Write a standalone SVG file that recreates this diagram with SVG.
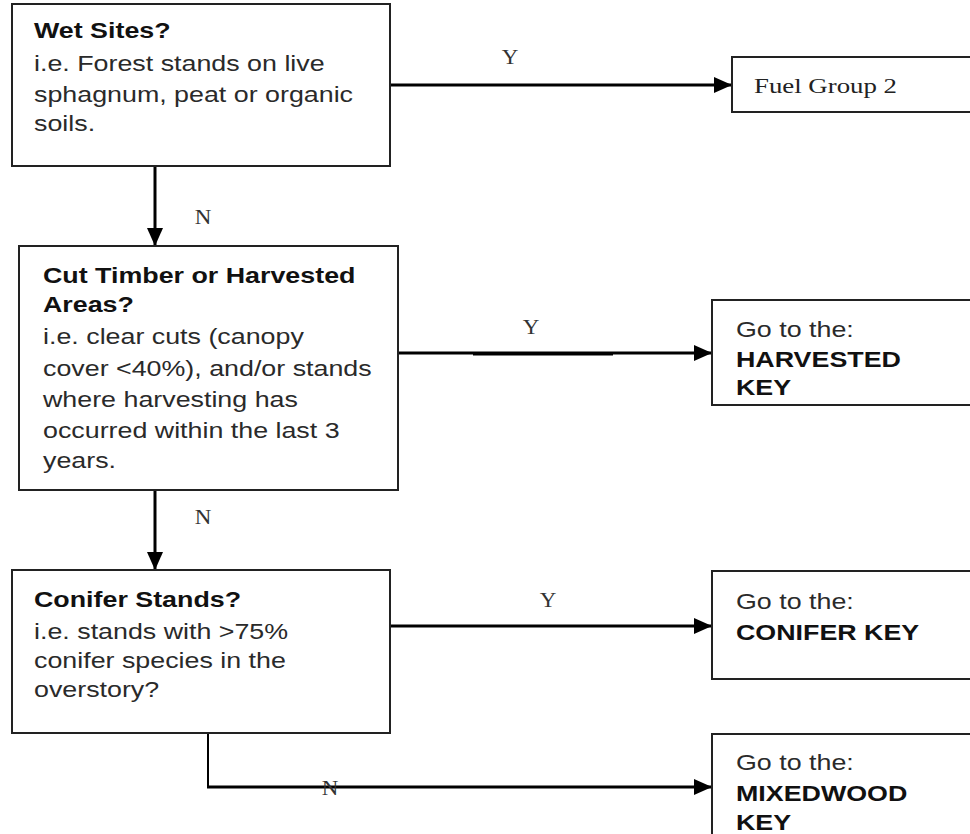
<svg xmlns="http://www.w3.org/2000/svg" width="970" height="834" viewBox="0 0 970 834">
<style>
.box{fill:#fff;stroke:#222;stroke-width:2}
.s{font-family:"Liberation Sans",Arial,sans-serif;font-size:22px;fill:#2a2a2a}
.b{font-family:"Liberation Sans",Arial,sans-serif;font-size:22px;font-weight:bold;fill:#111}
.t{font-family:"Liberation Serif","Times New Roman",serif;font-size:22px;fill:#222}
.lbl{font-family:"Liberation Serif","Times New Roman",serif;font-size:20px;fill:#333}
.c{fill:none;stroke:#000;stroke-width:3}
.c2{fill:none;stroke:#000;stroke-width:2}
</style>
<defs>
<marker id="ah" viewBox="0 0 18 16" refX="18" refY="8" markerWidth="18" markerHeight="16" markerUnits="userSpaceOnUse" orient="auto">
<path d="M0,0 L18,8 L0,16 z" fill="#000"/>
</marker>
</defs>
<rect width="970" height="834" fill="#fff"/>
<g id="connectors">
<line class="c" x1="390" y1="85" x2="732" y2="85" marker-end="url(#ah)"/>
<line class="c" x1="155" y1="166" x2="155" y2="246" marker-end="url(#ah)"/>
<line class="c" x1="398" y1="353" x2="712" y2="353" marker-end="url(#ah)"/>
<line class="c" x1="473" y1="354" x2="613" y2="354"/>
<line class="c" x1="155" y1="490" x2="155" y2="570" marker-end="url(#ah)"/>
<line class="c" x1="390" y1="626" x2="712" y2="626" marker-end="url(#ah)"/>
<polyline class="c2" points="208,733 208,787"/>
<line class="c" x1="207" y1="787" x2="712" y2="787" marker-end="url(#ah)"/>
<g transform="translate(510 0) scale(1.15 1)"><text class="lbl" x="0" y="64" text-anchor="middle">Y</text></g>
<g transform="translate(203 0) scale(1.15 1)"><text class="lbl" x="0" y="224" text-anchor="middle">N</text></g>
<g transform="translate(531 0) scale(1.15 1)"><text class="lbl" x="0" y="334" text-anchor="middle">Y</text></g>
<g transform="translate(203 0) scale(1.15 1)"><text class="lbl" x="0" y="524" text-anchor="middle">N</text></g>
<g transform="translate(548 0) scale(1.15 1)"><text class="lbl" x="0" y="607" text-anchor="middle">Y</text></g>
<g transform="translate(330 0) scale(1.15 1)"><text class="lbl" x="0" y="795" text-anchor="middle">N</text></g>
</g>
<g id="wet">
<rect class="box" x="12" y="4" width="378" height="162"/>
<g transform="translate(34 0) scale(1.22 1)">
<text class="b" x="0" y="38">Wet Sites?</text>
<text class="s" x="0" y="71">i.e. Forest stands on live</text>
<text class="s" x="0" y="102">sphagnum, peat or organic</text>
<text class="s" x="0" y="131">soils.</text>
</g>
</g>
<g id="fuel2">
<rect class="box" x="732" y="57" width="250" height="55"/>
<g transform="translate(754 0) scale(1.22 1)"><text class="t" x="0" y="93">Fuel Group 2</text></g>
</g>
<g id="cut">
<rect class="box" x="19" y="246" width="379" height="244"/>
<g transform="translate(43 0) scale(1.22 1)">
<text class="b" x="0" y="283">Cut Timber or Harvested</text>
<text class="b" x="0" y="312">Areas?</text>
<text class="s" x="0" y="344">i.e. clear cuts (canopy</text>
<text class="s" x="0" y="376">cover &lt;40%), and/or stands</text>
<text class="s" x="0" y="407">where harvesting has</text>
<text class="s" x="0" y="438">occurred within the last 3</text>
<text class="s" x="0" y="468">years.</text>
</g>
</g>
<g id="harvested">
<rect class="box" x="712" y="300" width="270" height="105"/>
<g transform="translate(736 0) scale(1.22 1)">
<text class="s" x="0" y="337">Go to the:</text>
<text class="b" x="0" y="367">HARVESTED</text>
<text class="b" x="0" y="395">KEY</text>
</g>
</g>
<g id="conifer">
<rect class="box" x="12" y="570" width="378" height="163"/>
<g transform="translate(34 0) scale(1.22 1)">
<text class="b" x="0" y="607">Conifer Stands?</text>
<text class="s" x="0" y="639">i.e. stands with &gt;75%</text>
<text class="s" x="0" y="668">conifer species in the</text>
<text class="s" x="0" y="697">overstory?</text>
</g>
</g>
<g id="coniferkey">
<rect class="box" x="712" y="571" width="270" height="108"/>
<g transform="translate(736 0) scale(1.22 1)">
<text class="s" x="0" y="609">Go to the:</text>
<text class="b" x="0" y="640">CONIFER KEY</text>
</g>
</g>
<g id="mixedwood">
<rect class="box" x="712" y="734" width="270" height="120"/>
<g transform="translate(736 0) scale(1.22 1)">
<text class="s" x="0" y="770">Go to the:</text>
<text class="b" x="0" y="801">MIXEDWOOD</text>
<text class="b" x="0" y="830">KEY</text>
</g>
</g>
</svg>
